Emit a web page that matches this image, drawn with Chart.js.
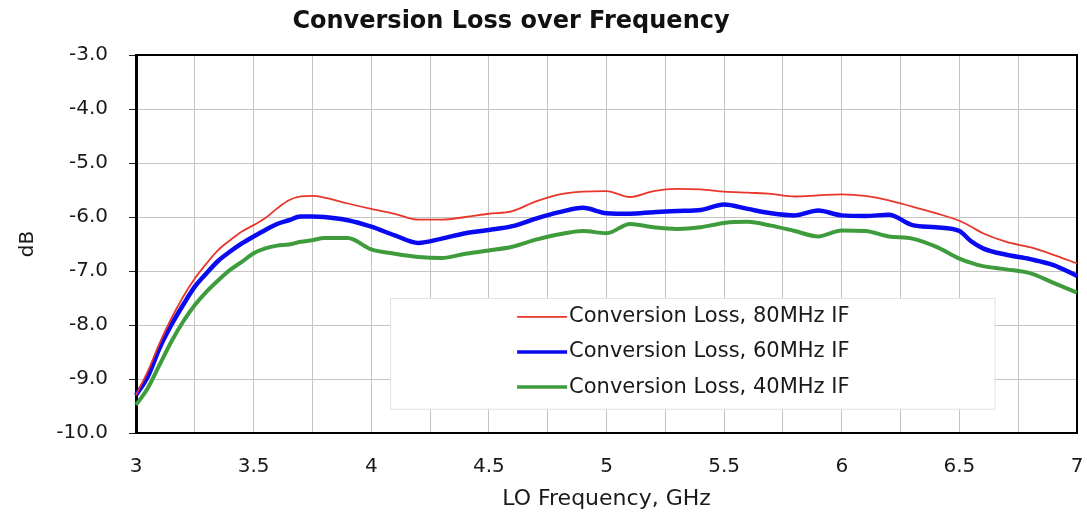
<!DOCTYPE html>
<html>
<head>
<meta charset="utf-8">
<script src="https://cdn.jsdelivr.net/npm/chart.js@4.4.1/dist/chart.umd.min.js"></script>
<style>
html,body{margin:0;padding:0;background:#fff;}
#wrap{position:relative;width:1087px;height:515px;}
</style>
</head>
<body>
<div id="wrap"><canvas id="c" width="1087" height="515"></canvas></div>
<script>
const chartTitle = "Conversion Loss over Frequency";
const xTitle = "LO Frequency, GHz";
const yTitle = "dB";
const seriesLabels = ["Conversion Loss, 80MHz IF", "Conversion Loss, 60MHz IF", "Conversion Loss, 40MHz IF"];
const freq = [3.0,3.05,3.1,3.15,3.2,3.25,3.3,3.35,3.4,3.45,3.5,3.55,3.6,3.65,3.7,3.75,3.8,3.9,4.0,4.1,4.2,4.3,4.4,4.5,4.6,4.7,4.8,4.9,5.0,5.1,5.2,5.3,5.4,5.5,5.6,5.7,5.8,5.9,6.0,6.1,6.2,6.3,6.4,6.5,6.55,6.6,6.7,6.8,6.9,7.0];
const loss80 = [-9.30,-8.86,-8.34,-7.88,-7.48,-7.14,-6.86,-6.61,-6.43,-6.27,-6.15,-6.02,-5.84,-5.69,-5.62,-5.61,-5.64,-5.75,-5.85,-5.94,-6.05,-6.05,-6.00,-5.94,-5.89,-5.71,-5.58,-5.53,-5.52,-5.63,-5.52,-5.48,-5.49,-5.53,-5.55,-5.57,-5.62,-5.60,-5.58,-5.61,-5.69,-5.81,-5.93,-6.07,-6.18,-6.30,-6.46,-6.56,-6.70,-6.86];
const loss60 = [-9.30,-8.96,-8.43,-8.00,-7.63,-7.29,-7.04,-6.81,-6.64,-6.49,-6.36,-6.24,-6.13,-6.06,-5.99,-5.99,-6.00,-6.06,-6.18,-6.34,-6.48,-6.40,-6.30,-6.24,-6.17,-6.03,-5.91,-5.83,-5.93,-5.94,-5.91,-5.89,-5.87,-5.77,-5.85,-5.93,-5.97,-5.88,-5.97,-5.98,-5.96,-6.15,-6.19,-6.26,-6.45,-6.58,-6.70,-6.78,-6.89,-7.09];
const loss40 = [-9.48,-9.17,-8.74,-8.31,-7.94,-7.63,-7.38,-7.17,-6.98,-6.83,-6.67,-6.58,-6.53,-6.51,-6.46,-6.43,-6.39,-6.39,-6.60,-6.68,-6.74,-6.76,-6.68,-6.62,-6.55,-6.42,-6.32,-6.26,-6.30,-6.13,-6.19,-6.22,-6.19,-6.11,-6.09,-6.16,-6.26,-6.36,-6.25,-6.26,-6.36,-6.40,-6.55,-6.77,-6.85,-6.91,-6.97,-7.04,-7.22,-7.40];
const seriesValues = [loss80, loss60, loss40];
const seriesColors = ["#e8362b", "#0a0af0", "#3f9c3c"];
const seriesWidths = [1.8, 4.5, 4];

const FONT = "'DejaVu Sans', 'Open Sans', sans-serif";

const datasets = seriesValues.map((vals, i) => ({
  label: seriesLabels[i],
  data: freq.map((f, j) => ({x: f, y: vals[j]})),
  borderColor: seriesColors[i],
  backgroundColor: seriesColors[i],
  borderWidth: seriesWidths[i],
  pointRadius: 0,
  cubicInterpolationMode: 'monotone',
  fill: false,
  clip: 4
}));

const decor = {
  id: 'decor',
  beforeDatasetsDraw(chart) {
    const ctx = chart.ctx, a = chart.chartArea;
    const xs = chart.scales.x, ys = chart.scales.y;
    ctx.save();
    // frame (top and right)
    ctx.strokeStyle = '#000';
    ctx.lineWidth = 2;
    ctx.beginPath();
    ctx.moveTo(a.left, a.top); ctx.lineTo(a.right, a.top); ctx.lineTo(a.right, a.bottom);
    ctx.stroke();
    // legend box
    const bx = xs.getPixelForValue(4.08), bx2 = xs.getPixelForValue(6.65);
    const by = ys.getPixelForValue(-7.5), by2 = ys.getPixelForValue(-9.55);
    ctx.fillStyle = '#fff';
    ctx.fillRect(bx, by, bx2 - bx, by2 - by);
    ctx.strokeStyle = '#e2e2e2';
    ctx.lineWidth = 1;
    ctx.strokeRect(bx + 0.5, by + 0.5, bx2 - bx, by2 - by);
    // legend entries
    const lx = xs.getPixelForValue(4.62);
    ctx.font = "21px " + FONT;
    ctx.textBaseline = 'middle';
    chart.data.datasets.forEach((ds, i) => {
      const yy = ys.getPixelForValue(-7.85 - i * 0.65);
      ctx.strokeStyle = ds.borderColor;
      ctx.lineWidth = Math.min(ds.borderWidth, 3.5);
      ctx.beginPath(); ctx.moveTo(lx, yy); ctx.lineTo(lx + 50, yy); ctx.stroke();
      ctx.fillStyle = '#1a1a1a';
      ctx.fillText(ds.label, lx + 52, yy);
    });
    ctx.restore();
  },
  afterDraw(chart) {
    const ctx = chart.ctx;
    ctx.save();
    ctx.font = "bold 24px " + FONT;
    ctx.fillStyle = '#111';
    ctx.textAlign = 'center';
    ctx.textBaseline = 'middle';
    ctx.fillText(chartTitle, 511, 22);
    ctx.restore();
  }
};

new Chart(document.getElementById('c'), {
  type: 'line',
  data: { datasets },
  options: {
    responsive: false,
    animation: false,
    layout: { padding: { top: 55, right: 10, left: 0, bottom: 0 } },
    plugins: { legend: { display: false }, title: { display: false }, tooltip: { enabled: false } },
    scales: {
      x: {
        type: 'linear', min: 3, max: 7,
        afterFit: s => { s.height = 82; s.paddingLeft = 0; s.paddingRight = 0; },
        ticks: {
          stepSize: 0.25, autoSkip: false, maxRotation: 0, padding: 22,
          color: '#1a1a1a', font: { family: FONT, size: 20 },
          callback: v => (Math.abs(v * 2 - Math.round(v * 2)) < 1e-6 ? String(v) : '')
        },
        grid: { color: '#c4c4c4', lineWidth: 1, drawTicks: false },
        border: { color: '#000', width: 2 },
        title: { display: true, text: xTitle, color: '#1a1a1a', font: { family: FONT, size: 22 }, padding: { top: 0, bottom: 3 } }
      },
      y: {
        min: -10, max: -3,
        afterFit: s => { s.width = 136; s.paddingTop = 0; s.paddingBottom = 0; },
        ticks: {
          stepSize: 1, padding: 21, color: '#1a1a1a', font: { family: FONT, size: 20 },
          callback: v => Number(v).toFixed(1)
        },
        grid: { color: '#c4c4c4', lineWidth: 1, drawTicks: true, tickLength: 7, tickColor: '#222' },
        border: { color: '#000', width: 3 },
        title: { display: true, text: yTitle, color: '#1a1a1a', font: { family: FONT, size: 20 }, padding: { top: 16, bottom: 0 } }
      }
    }
  },
  plugins: [decor]
});
</script>
</body>
</html>
